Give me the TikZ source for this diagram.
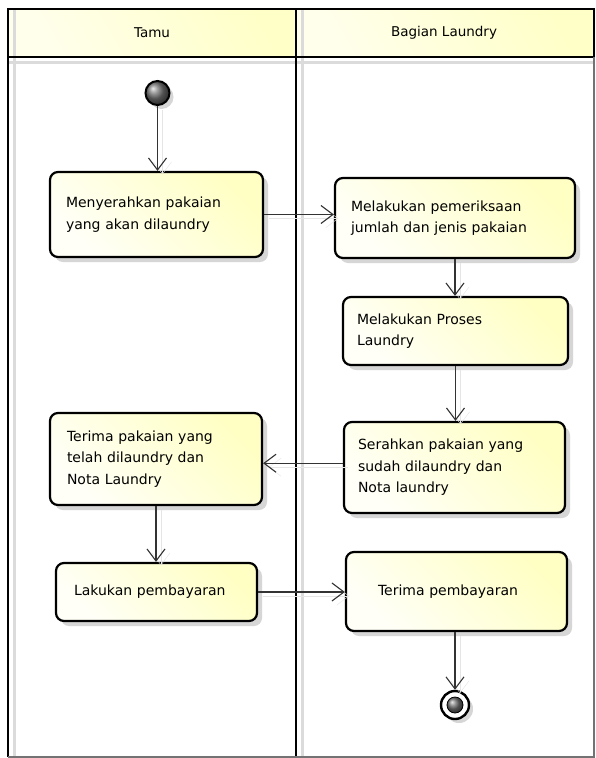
\documentclass[tikz,border=0pt]{standalone}
\usepackage{fontspec}
\setmainfont{DejaVu Sans}
\usetikzlibrary{arrows.meta,calc}
\definecolor{actyellow}{RGB}{255,255,196}
\definecolor{actlight}{RGB}{255,255,248}
\definecolor{hdryellow}{RGB}{255,255,200}
\definecolor{hdrlight}{RGB}{255,255,236}
\tikzset{
  activity/.style={draw=black, line width=2.2pt, rounded corners=8pt,
    left color=actlight, right color=actyellow, shading angle=135,
    align=left, inner ysep=0pt, font=\fontsize{14}{21.5}\selectfont,
    preaction={fill=black!16, transform canvas={shift={(5pt,-5pt)}}}},
  flow/.style={draw=black!80, line width=1.1pt,
    -{Straight Barb[length=12pt,width=18pt,line width=1.1pt]},
    preaction={draw=black!10, transform canvas={shift={(5pt,-4pt)}}}},
  startnode/.style={circle, draw=black, line width=2pt, minimum width=24pt,
    minimum height=24pt, inner sep=0pt, ball color=black!55,
    preaction={fill=black!16, transform canvas={shift={(4pt,-4pt)}}}},
  endouter/.style={circle, draw=black, line width=2.4pt, fill=white,
    minimum size=28pt, inner sep=0pt,
    preaction={fill=black!16, transform canvas={shift={(4pt,-4pt)}}}},
  endcore/.style={circle, draw=black, line width=0.8pt, ball color=black!55,
    minimum size=16pt, inner sep=0pt},
  lanetitle/.style={font=\fontsize{13.5}{16}\selectfont},
  frameline/.style={draw=black, line width=2.2pt},
  laneshade/.style={draw=black!14, line width=3pt},
}
\begin{document}
\begin{tikzpicture}[x=1pt, y=-1pt]
  \useasboundingbox (0,0) rectangle (595,758);
  \fill[white] (0,0) rectangle (595,758);

  % lane headers
  \shade[left color=hdrlight, right color=hdryellow, shading angle=120]
    (8,9) rectangle (296,57);
  \shade[left color=hdrlight, right color=hdryellow, shading angle=120]
    (296,9) rectangle (594,57);
  \node[lanetitle] (tamu) at (152,33) {Tamu};
  \node[lanetitle] (bagian) at (444,33) {Bagian Laundry};

  % soft shading inside the lanes
  \draw[laneshade] (14,10) -- (14,756);
  \draw[laneshade] (302,10) -- (302,756);
  \draw[laneshade] (9,62) -- (593,62);

  % swimlane frame
  \draw[frameline] (8,757) -- (8,9) -- (594,9) -- (594,57);
  \draw[frameline] (8,57) -- (594,57);
  \draw[frameline] (296,9) -- (296,757);
  \draw[black!55, line width=1.6pt] (594,57) -- (594,757) -- (8,757);

  % initial node
  \node[startnode] (start) at (157.5,93) {};

  % activities
  \node[activity, minimum width=213pt, minimum height=85pt, text width=181pt,
        inner xsep=16pt] (box1) at (156.5,214.5)
        {Menyerahkan pakaian\\yang akan dilaundry};
  \node[activity, minimum width=240pt, minimum height=80pt, text width=208pt,
        inner xsep=16pt] (box2) at (455,218)
        {Melakukan pemeriksaan\\jumlah dan jenis pakaian};
  \node[activity, minimum width=225pt, minimum height=68pt, text width=197pt,
        inner xsep=14pt] (box3) at (455.5,331)
        {Melakukan Proses\\Laundry};
  \node[activity, minimum width=221pt, minimum height=91pt, text width=193pt,
        inner xsep=14pt] (box4) at (454.5,467.5)
        {Serahkan pakaian yang\\sudah dilaundry dan\\Nota laundry};
  \node[activity, minimum width=212pt, minimum height=92pt, text width=178pt,
        inner xsep=17pt] (box5) at (156,459)
        {Terima pakaian yang\\telah dilaundry dan\\Nota Laundry};
  \node[activity, minimum width=201pt, minimum height=58pt, text width=165pt,
        inner xsep=18pt] (box6) at (156.5,592)
        {Lakukan pembayaran};
  \node[activity, minimum width=221pt, minimum height=79pt, text width=157pt,
        inner xsep=32pt] (box7) at (456.5,591.5)
        {Terima pembayaran};

  % final node
  \node[endouter] (end) at (455,705) {};
  \node[endcore] (endc) at (end) {};

  % control flows
  \draw[flow] (start.south) -- (start.south |- box1.north);
  \draw[flow] (box1.east) -- (box1.east -| box2.west);
  \draw[flow] (box2.south) -- (box2.south |- box3.north);
  \draw[flow] (box3.south) -- (box3.south |- box4.north);
  \coordinate (m45) at ($(box4.west)!.5!(box5.east)$);
  \draw[flow] (box4.west |- m45) -- (box5.east |- m45);
  \draw[flow] (box5.south) -- (box5.south |- box6.north);
  \draw[flow] (box6.east) -- (box6.east -| box7.west);
  \draw[flow] (end |- box7.south) -- (end.north);
\end{tikzpicture}
\end{document}
